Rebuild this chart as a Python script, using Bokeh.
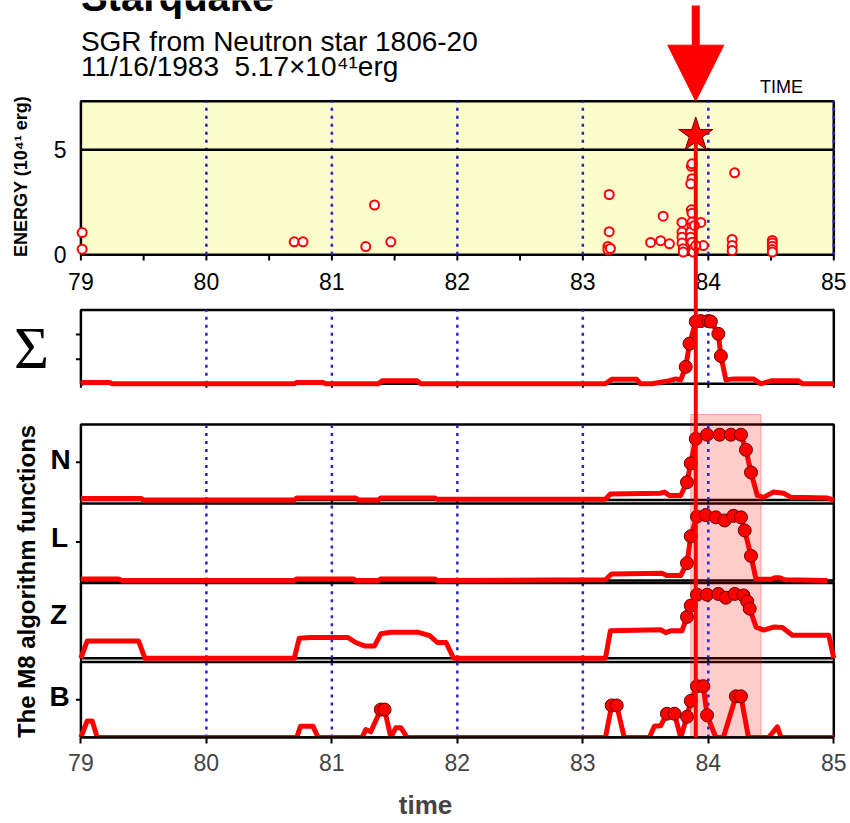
import math
from bokeh.plotting import figure
from bokeh.models import Range1d, FixedTicker, Label, Arrow, NormalHead
from bokeh.core.properties import value
from bokeh.embed import file_html
from bokeh.resources import INLINE

# ------------------------------------------------------------------ data
years = [79, 80, 81, 82, 83, 84, 85]
year_labels = ["79", "80", "81", "82", "83", "84", "85"]
energy_ticks = [0, 5]
energy_tick_labels = ["0", "5"]

# SGR 1806-20 bursts: time (year-1900) and energy (10^41 erg)
energy_t = [79.01, 79.01, 80.70, 80.77, 81.27, 81.34, 81.47,
            83.21, 83.21, 83.20, 83.20, 83.22,
            83.54, 83.62, 83.64, 83.69,
            83.79, 83.79, 83.79, 83.79, 83.80, 83.80,
            83.865, 83.87, 83.87, 83.86, 83.865, 83.87, 83.87, 83.87, 83.86, 83.86, 83.87, 83.88, 83.88,
            83.94, 83.89, 83.96, 83.90,
            84.19, 84.19, 84.19, 84.21,
            84.51, 84.51, 84.51, 84.51, 84.51]
energy_v = [1.06, 0.27, 0.62, 0.62, 0.39, 2.37, 0.62,
            2.87, 1.10, 0.40, 0.24, 0.30,
            0.59, 0.67, 1.84, 0.52,
            1.54, 1.08, 0.84, 0.56, 0.29, 0.13,
            4.21, 4.33, 3.62, 3.38, 2.14, 1.98, 1.56, 1.32, 1.08, 0.84, 0.60, 0.29, 0.13,
            1.54, 1.40, 0.44, 0.44,
            0.73, 0.44, 0.21, 3.90,
            0.68, 0.56, 0.41, 0.25, 0.13]

event_t = 83.9       # 11/16/1983 starquake
event_e = 5.7
alarm_start = 83.86
alarm_end = 84.42

sigma_t = [79.0, 79.02, 79.23, 79.25, 80.70, 80.72, 80.93, 80.95, 81.37, 81.40, 81.68, 81.71,
           83.18, 83.23, 83.43, 83.46, 83.55, 83.67, 83.74, 83.78, 83.82, 83.85, 83.90, 83.94,
           84.00, 84.02, 84.08, 84.10, 84.14, 84.20, 84.36, 84.42, 84.50, 84.72, 84.75, 85.0]
sigma_v = [0, 0.05, 0.05, 0, 0, 0.05, 0.05, 0, 0, 0.12, 0.12, 0,
           0, 0.18, 0.18, 0, 0, 0.10, 0.20, 0.16, 0.69, 1.63, 2.53, 2.55,
           2.55, 2.53, 2.03, 1.13, 0.16, 0.20, 0.20, 0, 0.12, 0.12, 0, 0]
sigma_dot_t = [83.82, 83.85, 83.90, 83.94, 84.00, 84.02, 84.08, 84.10]
sigma_dot_v = [0.69, 1.63, 2.53, 2.55, 2.55, 2.53, 2.03, 1.13]

n_t = [79.0, 79.48, 79.50, 80.70, 80.72, 81.19, 81.21, 81.37, 81.39, 81.82, 81.84, 83.18,
       83.22, 83.62, 83.65, 83.69, 83.78, 83.83, 83.86, 83.90, 83.99, 84.09, 84.18, 84.26,
       84.30, 84.34, 84.39, 84.44, 84.52, 84.60, 84.66, 84.95, 85.0]
n_v = [0.04, 0.04, 0, 0, 0.05, 0.05, 0, 0, 0.05, 0.05, 0.02, 0.02,
       0.16, 0.18, 0.21, 0.12, 0.12, 0.47, 0.97, 1.62, 1.73, 1.73, 1.73, 1.73,
       1.33, 0.73, 0.12, 0.07, 0.21, 0.18, 0.07, 0.05, 0]
n_dot_t = [83.83, 83.86, 83.90, 83.99, 84.09, 84.18, 84.26, 84.30, 84.34]
n_dot_v = [0.47, 0.97, 1.62, 1.73, 1.73, 1.73, 1.73, 1.33, 0.73]

l_t = [79.0, 79.30, 79.33, 80.70, 80.72, 81.17, 81.19, 81.37, 81.39, 81.82, 81.84, 83.18,
       83.23, 83.63, 83.67, 83.78, 83.83, 83.86, 83.91, 83.98, 84.06, 84.13, 84.20, 84.26,
       84.29, 84.34, 84.38, 84.50, 84.53, 84.57, 84.61, 84.95]
l_v = [0.04, 0.04, 0, 0, 0.04, 0.04, 0, 0, 0.04, 0.04, 0, 0.02,
       0.17, 0.19, 0.13, 0.13, 0.45, 1.15, 1.66, 1.70, 1.64, 1.56, 1.68, 1.64,
       1.30, 0.64, 0.03, 0.03, 0.07, 0.07, 0.02, 0.0]
l_dot_t = [83.83, 83.86, 83.91, 83.98, 84.06, 84.13, 84.20, 84.26, 84.29, 84.34]
l_dot_v = [0.45, 1.15, 1.66, 1.70, 1.64, 1.56, 1.68, 1.64, 1.30, 0.64]

z_t = [79.0, 79.05, 79.46, 79.51, 80.70, 80.74, 80.83, 81.13, 81.19, 81.26, 81.34, 81.39,
       81.47, 81.69, 81.78, 81.84, 81.91, 81.97, 83.18, 83.22, 83.62, 83.66, 83.70, 83.79,
       83.83, 83.86, 83.91, 83.99, 84.08, 84.14, 84.21, 84.28, 84.31, 84.33, 84.38, 84.44,
       84.52, 84.59, 84.67, 84.96, 85.0]
z_v = [0, 0.46, 0.46, 0, 0, 0.53, 0.55, 0.55, 0.42, 0.33, 0.33, 0.65,
       0.69, 0.69, 0.60, 0.42, 0.42, 0, 0, 0.73, 0.76, 0.68, 0.73, 0.73,
       1.10, 1.40, 1.69, 1.69, 1.71, 1.61, 1.71, 1.67, 1.51, 1.32, 0.83, 0.75,
       0.83, 0.82, 0.61, 0.61, 0]
z_dot_t = [83.83, 83.86, 83.91, 83.99, 84.08, 84.14, 84.21, 84.28, 84.31, 84.33]
z_dot_v = [1.10, 1.40, 1.69, 1.69, 1.71, 1.61, 1.71, 1.67, 1.51, 1.32]

b_t = [79.0, 79.05, 79.09, 79.13, 80.72, 80.75, 80.85, 80.89, 81.24, 81.27, 81.31, 81.39,
       81.42, 81.47, 81.51, 81.55, 81.60, 83.18, 83.23, 83.27, 83.33, 83.53, 83.57, 83.62,
       83.67, 83.73, 83.78, 83.83, 83.86, 83.91, 83.96, 83.99, 84.06, 84.12, 84.22, 84.26,
       84.32, 84.48, 84.55, 84.58, 85.0]
b_v = [0, 0.44, 0.44, 0, 0, 0.30, 0.30, 0, 0, 0.21, 0.15, 0.74,
       0.74, 0, 0.26, 0.26, 0, 0, 0.85, 0.85, 0, 0, 0.30, 0.31,
       0.63, 0.63, 0, 0.55, 0.97, 1.36, 1.36, 0.59, 0, 0, 1.09, 1.09,
       0, 0, 0.28, 0, 0]
b_dot_t = [81.39, 81.42, 83.23, 83.27, 83.67, 83.73, 83.83, 83.86, 83.91, 83.96, 83.99, 84.22, 84.26]
b_dot_v = [0.74, 0.74, 0.85, 0.85, 0.63, 0.63, 0.55, 0.97, 1.36, 1.36, 0.59, 1.09, 1.09]

# ------------------------------------------------------------------ layout (page pixels)
FONT = "Liberation Sans"
W, H = 850, 823
FT, FB = 0, 737                 # frame top / bottom
P79, P85 = 80.4, 833.3          # page x of years 79 and 85
ppy = (P85 - P79) / (years[-1] - years[0])
x_start = years[0] - P79 / ppy
x_end = x_start + W / ppy

def px2t(px):
    return years[0] + (px - P79) / ppy

# panel: (lo, hi, top_px, bottom_px)
panels = {
    "E": (0, 7.31, 100.7, 254.3),
    "S": (0, 3, 309.5, 383.3),
    "N": (0, 2, 424.0, 499.5),
    "L": (0, 2, 503.0, 580.0),
    "Z": (0, 2, 582.5, 657.8),
    "B": (0, 2, 661.5, 737.0),
}

def band(lo, hi, top, bot):
    k = (hi - lo) / (bot - top)
    return Range1d(start=lo - (FB - bot) * k, end=lo + (bot - FT) * k)

def v_at(name, px):
    lo, hi, top, bot = panels[name]
    return lo + (bot - px) * (hi - lo) / (bot - top)

p = figure(width=W, height=H, x_range=Range1d(x_start, x_end), y_range=Range1d(FB, FT),
           output_backend="svg", toolbar_location=None, y_axis_location=None,
           min_border_left=0, min_border_right=0, min_border_top=0,
           min_border_bottom=H - (FB - FT), title=None)
p.extra_y_ranges = {k: band(*v) for k, v in panels.items()}
p.grid.visible = False
p.outline_line_color = None
p.background_fill_color = "white"
p.border_fill_color = "white"

# bottom axis
xa = p.xaxis[0]
xa.ticker = FixedTicker(ticks=years)
xa.major_label_overrides = {y: s for y, s in zip(years, year_labels)}
xa.bounds = (years[0], years[-1])
xa.axis_line_width = 2.5
xa.major_tick_out = 6
xa.major_tick_in = 0
xa.major_tick_line_width = 2
xa.minor_tick_line_color = None
xa.major_label_text_font = FONT
xa.major_label_text_font_size = "23px"
xa.major_label_standoff = 10
xa.axis_label = "time"
xa.axis_label_text_font = FONT
xa.axis_label_text_font_size = "26px"
xa.axis_label_text_font_style = "bold"
xa.axis_label_standoff = 16

# panel boxes
for name, (lo, hi, top, bot) in panels.items():
    p.quad(left=[years[0]], right=[years[-1]], bottom=[lo], top=[hi], y_range_name=name,
           fill_color="#fdfccb" if name == "E" else "white", line_color="black", line_width=2.5)

# alarm period (highlight)
p.quad(left=[alarm_start], right=[alarm_end], bottom=[743], top=[414],
       fill_color="red", fill_alpha=0.2, line_color="red", line_alpha=0.3, line_width=1)

# dotted yearly lines
inner = years[1:-1]
for name, (lo, hi, top, bot) in panels.items():
    yrs = inner + ([years[-1]] if name == "E" else [])
    p.segment(x0=yrs, x1=yrs, y0=[lo] * len(yrs), y1=[hi] * len(yrs), y_range_name=name,
              line_color="#2323d6", line_width=2.5, line_dash="3 5")

# energy level 5 line
p.segment(x0=[years[0]], x1=[years[-1]], y0=[5], y1=[5], y_range_name="E",
          line_color="black", line_width=2.5)

# ticks and tick labels of the energy panel
half = [y + 0.5 for y in years[:-1]]
all_t = years + half
p.segment(x0=all_t, x1=all_t, y0=[0] * len(all_t), y1=[v_at("E", 260)] * len(all_t),
          y_range_name="E", line_color="black", line_width=2)
p.text(x=years, y=[281] * len(years), text=year_labels, text_align="center", text_baseline="middle",
       text_font=value(FONT), text_font_size="23px", text_color="black")
p.text(x=[px2t(66)] * len(energy_ticks), y=energy_ticks, text=energy_tick_labels, y_range_name="E",
       text_align="right", text_baseline="middle", text_font=value(FONT), text_font_size="23px",
       text_color="black")

# small ticks on the lower panels
for name, ticks in (("S", [1, 2]), ("N", [1]), ("L", [1]), ("B", [1])):
    p.segment(x0=[years[0]] * len(ticks), x1=[px2t(P79 - 5)] * len(ticks), y0=ticks, y1=ticks,
              y_range_name=name, line_color="black", line_width=2)
for name in ("S", "N", "L", "Z"):
    lo, hi, top, bot = panels[name]
    p.segment(x0=years, x1=years, y0=[lo] * len(years), y1=[v_at(name, bot + 4)] * len(years),
              y_range_name=name, line_color="black", line_width=2)

# energy bursts
p.scatter(energy_t, energy_v, y_range_name="E", marker="circle", size=9,
          fill_color="white", line_color="red", line_width=2)

# M8 functions
series = {"S": (sigma_t, sigma_v, sigma_dot_t, sigma_dot_v),
          "N": (n_t, n_v, n_dot_t, n_dot_v),
          "L": (l_t, l_v, l_dot_t, l_dot_v),
          "Z": (z_t, z_v, z_dot_t, z_dot_v),
          "B": (b_t, b_v, b_dot_t, b_dot_v)}
for name, (t, v, dt, dv) in series.items():
    p.line(t, v, y_range_name=name, line_color="red", line_width=5, line_join="round")
for name, (t, v, dt, dv) in series.items():
    p.scatter(dt, dv, y_range_name=name, marker="circle", size=13, fill_color="red",
              line_color="#6a0000", line_width=1)

# event line and big arrow
p.add_layout(Arrow(x_start=event_t, y_start=event_e, x_end=event_t, y_end=v_at("E", 760),
                   y_range_name="E", end=None, line_color="red", line_width=4))
p.add_layout(Arrow(x_start=event_t, y_start=v_at("E", 5), x_end=event_t, y_end=panels["E"][1],
                   y_range_name="E", line_color="red", line_width=8,
                   end=NormalHead(size=56, fill_color="red", line_color="red", line_width=1)))
p.scatter([event_t], [event_e], y_range_name="E", marker="star", size=36,
          fill_color="red", line_color="#700000", line_width=1)

# texts
def lab(text, x, y, size, bold=False, angle=0.0, align="left", baseline="alphabetic", font=FONT):
    p.add_layout(Label(x=x, y=y, text=text, text_font=font, text_font_size=f"{size}px",
                       text_font_style="bold" if bold else "normal", angle=angle,
                       text_align=align, text_baseline=baseline, text_color="black"))

lab("Starquake", years[0], -4, 40, bold=True)
lab("SGR from Neutron star 1806-20", years[0], 41, 28)
lab("11/16/1983\u00a0\u00a05.17×10⁴¹erg", years[0], 66, 28)
lab("TIME", px2t(781), 86, 18, align="center", baseline="middle")
lab("ENERGY (10⁴¹ erg)", px2t(20), 176, 18, bold=True, angle=math.pi / 2,
    align="center", baseline="middle")
lab("Σ", px2t(31), 347, 60, align="center", baseline="middle", font="Liberation Serif")
lab("N", px2t(60), 459, 28, bold=True, align="center", baseline="middle")
lab("L", px2t(59), 537, 28, bold=True, align="center", baseline="middle")
lab("Z", px2t(58), 614, 28, bold=True, align="center", baseline="middle")
lab("B", px2t(59), 696, 28, bold=True, align="center", baseline="middle")
lab("The M8 algorithm functions", px2t(26), 581, 24, bold=True, angle=math.pi / 2,
    align="center", baseline="middle")

open("out.html", "w").write(file_html(p, INLINE))
